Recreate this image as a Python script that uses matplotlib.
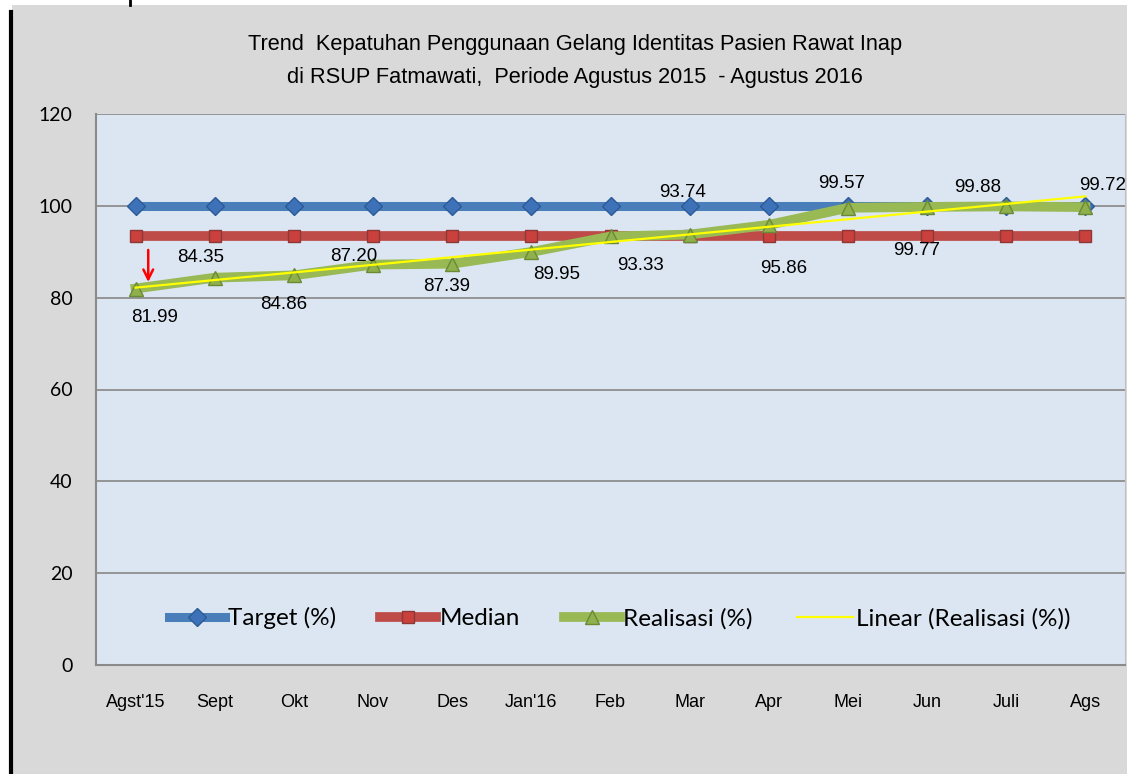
import numpy as np
import matplotlib
matplotlib.use("Agg")
import matplotlib.pyplot as plt
from matplotlib.lines import Line2D
from matplotlib.patches import Rectangle

# data
months = ["Agst'15", "Sept", "Okt", "Nov", "Des", "Jan'16", "Feb",
          "Mar", "Apr", "Mei", "Jun", "Juli", "Ags"]
target = [100] * 13
median = [93.33] * 13
realisasi = [81.99, 84.35, 84.86, 87.20, 87.39, 89.95, 93.33,
             93.74, 95.86, 99.57, 99.77, 99.88, 99.72]

# label offsets in pixels (dx, dy) for each realisasi value
label_offsets = [(19, -29), (-14, 20), (-10, -29), (-19, 8), (-6, -23),
                 (25, -23), (30, -29), (-7, 42), (15, -44), (-6, 24),
                 (-10, -44), (-29, 19), (17, 22)]

NARROW = ["Liberation Sans", "DejaVu Sans"]
CAL = ["Lato", "DejaVu Sans"]

x = np.arange(len(months))

fig = plt.figure(figsize=(11.27, 7.74), dpi=100)
fig.patch.set_facecolor("white")

# gray chart background and the black edge on the left
W, H = 1127, 774
fig.patches.append(Rectangle((12 / W, 0), 1 - 12 / W, (H - 5) / H,
                             transform=fig.transFigure, facecolor="#d9d9d9",
                             edgecolor="none", zorder=-5))
fig.lines.append(Line2D([11 / W, 11 / W], [0, (H - 12) / H],
                        transform=fig.transFigure, color="black", lw=3))
fig.lines.append(Line2D([130 / W, 130 / W], [(H - 5) / H, 1],
                        transform=fig.transFigure, color="black", lw=2))

ax = fig.add_axes([96 / W, (H - 665) / H, 1029 / W, 551 / H])
ax.set_zorder(2)
ax.set_facecolor("#dce6f2")

ax.plot(x, target, color="#4a7ebb", lw=6.5, marker="D", ms=9.5,
        mfc="#3d72b8", mec="#2c5a96", mew=1, label="Target (%)", zorder=3)
ax.plot(x, median, color="#be4b48", lw=7, marker="s", ms=8,
        mfc="#c9403d", mec="#8c3836", mew=1, label="Median", zorder=3)
ax.plot(x, realisasi, color="#98b954", lw=7, marker="^", ms=10.5,
        mfc="#8fb04c", mec="#6a8a35", mew=1, label="Realisasi (%)", zorder=4)

coef = np.polyfit(x, realisasi, 1)
ax.plot(x, np.polyval(coef, x), color="#ffff00", lw=1.6,
        label="Linear (Realisasi (%))", zorder=5)

for xi, v, (dx, dy) in zip(x, realisasi, label_offsets):
    ax.annotate(f"{v:.2f}", (xi, v), xytext=(dx, dy), textcoords="offset pixels",
                ha="center", va="center", fontsize=13.5, family=NARROW, zorder=6)

# red arrow at the first point
ax.annotate("", xy=(0.16, 82.8), xytext=(0.16, 91.0),
            arrowprops=dict(arrowstyle="->,head_width=0.35,head_length=0.7",
                            color="red", lw=1.8), zorder=7)

ax.set_xlim(-0.5, 12.5)
ax.set_ylim(0, 120)
ax.set_yticks(range(0, 121, 20))
ax.set_xticks(x)
ax.set_xticklabels(months, family=NARROW, fontsize=13)
for t in ax.get_yticklabels():
    t.set_family(CAL)
    t.set_fontsize(14)
ax.tick_params(axis="both", length=0)
ax.tick_params(axis="y", pad=17)
ax.tick_params(axis="x", pad=21)
ax.grid(axis="y", color="#868686", lw=1.2)
ax.set_axisbelow(True)
for s in ["left", "bottom"]:
    ax.spines[s].set_color("#8a8a8a")
    ax.spines[s].set_linewidth(1.5)
ax.spines["top"].set_visible(False)
ax.spines["right"].set_color("#c0c0c0")

leg = ax.legend(loc="center", bbox_to_anchor=(0.509, 0.085), ncol=4,
                frameon=False, numpoints=1, handlelength=2.3,
                handletextpad=0.15, columnspacing=1.8,
                prop={"family": CAL, "size": 17.5})

fig.text(575 / W, 1 - 61 / H,
         "Trend  Kepatuhan Penggunaan Gelang Identitas Pasien Rawat Inap\n"
         "di RSUP Fatmawati,  Periode Agustus 2015  - Agustus 2016",
         ha="center", va="center", fontsize=15.7, family=NARROW, linespacing=1.7)

fig.savefig("out.png", dpi=100)
